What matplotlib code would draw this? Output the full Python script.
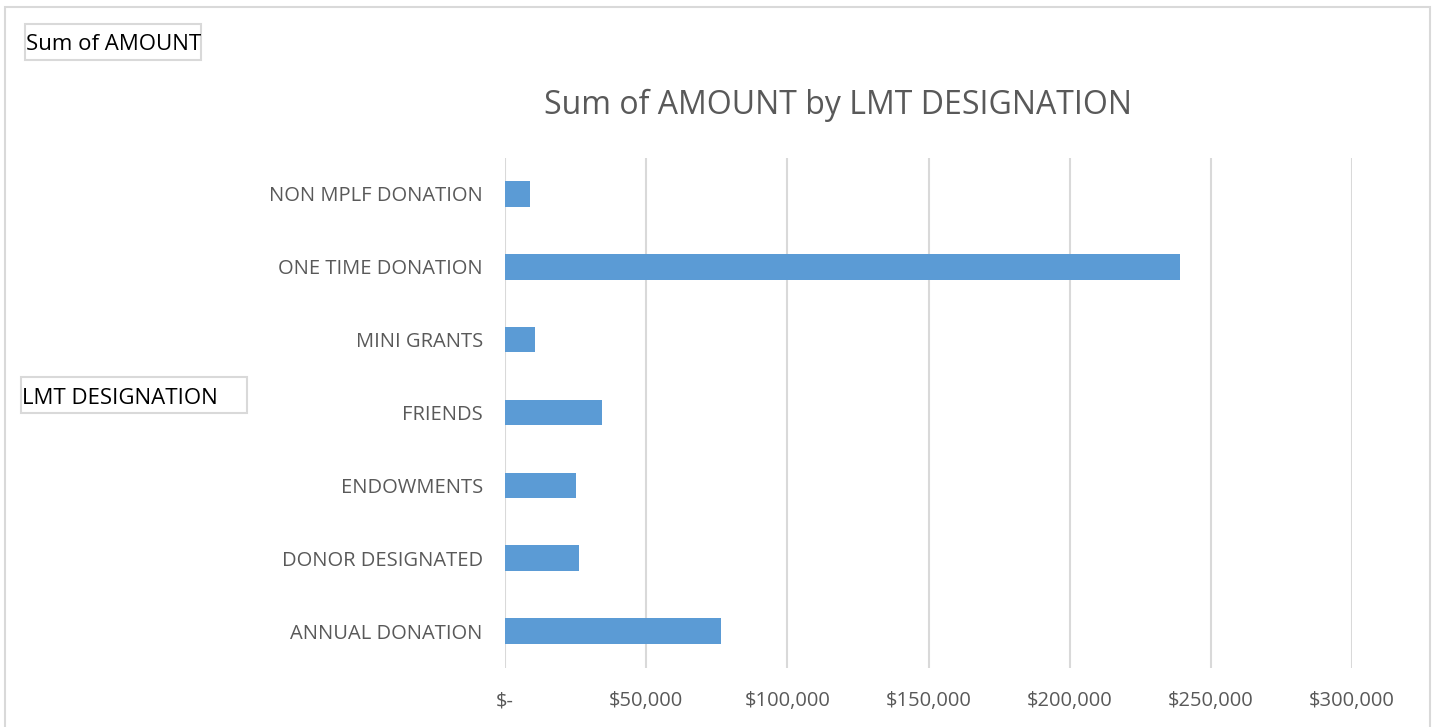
import matplotlib
matplotlib.use("Agg")
import matplotlib.pyplot as plt
from matplotlib.patches import Rectangle
from matplotlib.ticker import FuncFormatter

# data
designations = ['ANNUAL DONATION', 'DONOR DESIGNATED', 'ENDOWMENTS', 'FRIENDS',
                'MINI GRANTS', 'ONE TIME DONATION', 'NON MPLF DONATION']
amounts = [76600, 26200, 25200, 34400, 10600, 239000, 8900]
x_ticks = [0, 50000, 100000, 150000, 200000, 250000, 300000]

plt.rcParams['font.family'] = ['Open Sans', 'DejaVu Sans']
GRAY = '#595959'
GRID = '#D9D9D9'

fig = plt.figure(figsize=(14.33, 7.27), dpi=100)
ax = fig.add_axes([505 / 1433, 1 - 667.5 / 727, 847 / 1433, 510 / 727])

ax.barh(range(len(designations)), amounts, height=0.35, color='#5B9BD5', zorder=3)

ax.set_xlim(0, 300000)
ax.set_ylim(-0.5, len(designations) - 0.5)
ax.set_xticks(x_ticks)
ax.xaxis.set_major_formatter(FuncFormatter(lambda v, p: '$-' if v == 0 else f'${v:,.0f}'))
ax.set_yticks(range(len(designations)))
ax.set_yticklabels(designations)
ax.tick_params(axis='both', length=0, colors=GRAY, labelsize=14.5)
ax.tick_params(axis='x', pad=17)
ax.tick_params(axis='y', pad=16)
ax.grid(axis='x', color=GRID, linewidth=1.5, zorder=0)
for s in ax.spines.values():
    s.set_visible(False)

fig.text(838 / 1433, 1 - 105 / 727, 'Sum of AMOUNT by LMT DESIGNATION',
         ha='center', va='center', fontsize=23, color=GRAY)

# outer chart border
fig.patches.append(Rectangle((5 / 1433, -0.05), 1425 / 1433, 1.05 - 7 / 727,
                             transform=fig.transFigure, fill=False,
                             edgecolor=GRID, linewidth=1.5))

# pivot field buttons
for (x0, y0, x1, y1, label) in [(25, 24, 201, 60, 'Sum of AMOUNT'),
                                (21, 377, 247, 413, 'LMT DESIGNATION')]:
    fig.patches.append(Rectangle((x0 / 1433, 1 - y1 / 727), (x1 - x0) / 1433, (y1 - y0) / 727,
                                 transform=fig.transFigure, fill=False,
                                 edgecolor=GRID, linewidth=1.5))
    fig.text((x0 + 1) / 1433, 1 - ((y0 + y1) / 2 + 3) / 727, label,
             ha='left', va='center', fontsize=16, color='black')

fig.savefig('out.png', dpi=100)
